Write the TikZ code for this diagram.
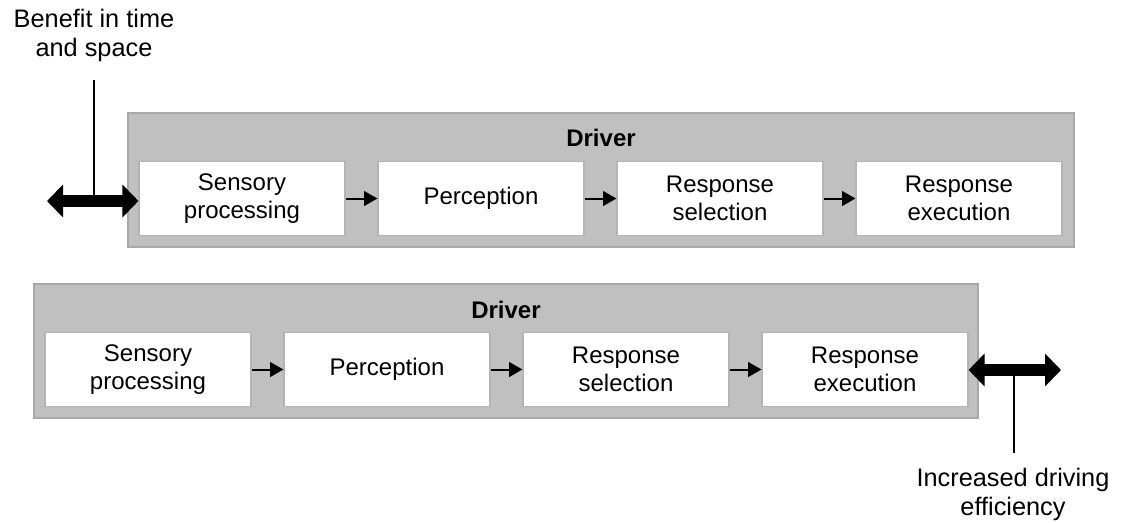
\documentclass[tikz,border=0pt]{standalone}
\usepackage{fontspec}
\setmainfont{Liberation Sans}
\usetikzlibrary{arrows.meta}
\definecolor{panelgray}{HTML}{C0C0C0}
\definecolor{panelline}{HTML}{A8A8A8}
\definecolor{boxline}{HTML}{B4B4B4}
\tikzset{
  panel/.style={fill=panelgray, draw=panelline, line width=0.8pt},
  stagebox/.style={fill=white, draw=boxline, line width=0.8pt,
    minimum width=154.5pt, minimum height=56pt, inner sep=0pt,
    align=center, font=\fontsize{18}{21}\selectfont},
  paneltitle/.style={font=\fontsize{18}{21}\selectfont\bfseries},
  flow/.style={line width=1.5pt, -{Triangle[length=10pt,width=11pt]}},
  bigarrow/.style={line width=9.5pt,
    {Triangle[length=12pt,width=24pt]}-{Triangle[length=12pt,width=24pt]}},
  leader/.style={line width=0.8pt},
  note/.style={align=center, font=\fontsize{19}{21.8}\selectfont, inner sep=0pt}
}
\begin{document}
\begin{tikzpicture}[x=0.75pt, y=-0.75pt]
  \useasboundingbox (0,0) rectangle (1124,522);

  % upper panel
  \filldraw[panel] (128,113) rectangle (1074,247);
  \node[paneltitle] (t1) at (601,138) {Driver};
  \node[stagebox] (a1) at (242,198.5) {Sensory\\processing};
  \node[stagebox] (a2) at (481,198.5) {Perception};
  \node[stagebox] (a3) at (720,198.5) {Response\\selection};
  \node[stagebox] (a4) at (959,198.5) {Response\\execution};
  \draw[flow] (a1) -- (a2);
  \draw[flow] (a2) -- (a3);
  \draw[flow] (a3) -- (a4);

  % lower panel
  \filldraw[panel] (34,284) rectangle (978,418);
  \node[paneltitle] (t2) at (506,310) {Driver};
  \node[stagebox] (b1) at (148,369.5) {Sensory\\processing};
  \node[stagebox] (b2) at (387,369.5) {Perception};
  \node[stagebox] (b3) at (626,369.5) {Response\\selection};
  \node[stagebox] (b4) at (865,369.5) {Response\\execution};
  \draw[flow] (b1) -- (b2);
  \draw[flow] (b2) -- (b3);
  \draw[flow] (b3) -- (b4);

  % double arrows with their labels
  \coordinate (ua) at (47,201);
  \coordinate (um) at (94,201);
  \draw[bigarrow] (ua) -- (a1.west |- ua);
  \node[note] (n1) at (94,35) {Benefit in time\\and space};
  \coordinate (u0) at (94,80);
  \draw[leader] (u0) -- (um);

  \coordinate (lb) at (1061,370);
  \coordinate (lm) at (1014,370);
  \draw[bigarrow] (b4.east |- lb) -- (lb);
  \node[note] (n2) at (1013,494) {Increased driving\\efficiency};
  \coordinate (l0) at (1014,453);
  \draw[leader] (lm) -- (l0);
\end{tikzpicture}
\end{document}
